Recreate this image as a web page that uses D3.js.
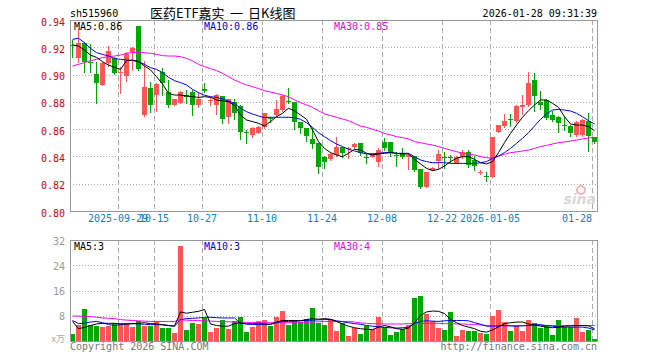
<!DOCTYPE html>
<html><head><meta charset="utf-8">
<script src="https://cdn.jsdelivr.net/npm/d3@7/dist/d3.min.js"></script>
<style>
html,body{margin:0;padding:0;background:#fff;}
svg{display:block;}
text{font-family:"DejaVu Sans Mono","Liberation Mono",monospace;font-size:10px;}
</style></head>
<body>
<svg id="chart" width="660" height="360"></svg>
<script>
const symbol = "sh515960";
const titleParts = ["医药ETF嘉实", "一", "日K线图"];
const stamp = "2026-01-28 09:31:39";
const dates = [
"2025-09-17","2025-09-18","2025-09-19","2025-09-22","2025-09-23","2025-09-24","2025-09-25","2025-09-26","2025-09-29","2025-09-30",
"2025-10-09","2025-10-10","2025-10-13","2025-10-14","2025-10-15","2025-10-16","2025-10-17","2025-10-20","2025-10-21","2025-10-22",
"2025-10-23","2025-10-24","2025-10-27","2025-10-28","2025-10-29","2025-10-30","2025-10-31","2025-11-03","2025-11-04","2025-11-05",
"2025-11-06","2025-11-07","2025-11-10","2025-11-11","2025-11-12","2025-11-13","2025-11-14","2025-11-17","2025-11-18","2025-11-19",
"2025-11-20","2025-11-21","2025-11-24","2025-11-25","2025-11-26","2025-11-27","2025-11-28","2025-12-01","2025-12-02","2025-12-03",
"2025-12-04","2025-12-05","2025-12-08","2025-12-09","2025-12-10","2025-12-11","2025-12-12","2025-12-15","2025-12-16","2025-12-17",
"2025-12-18","2025-12-19","2025-12-22","2025-12-23","2025-12-24","2025-12-25","2025-12-26","2025-12-29","2025-12-30","2025-12-31",
"2026-01-05","2026-01-06","2026-01-07","2026-01-08","2026-01-09","2026-01-12","2026-01-13","2026-01-14","2026-01-15","2026-01-16",
"2026-01-19","2026-01-20","2026-01-21","2026-01-22","2026-01-23","2026-01-26","2026-01-27","2026-01-28"];
const open = [
0.9217,0.9119,0.9234,0.9090,0.9004,0.8924,0.9087,0.9119,0.9019,0.8990,
0.9168,0.9356,0.8704,0.8904,0.8850,0.9016,0.8875,0.8777,0.8794,0.8850,
0.8875,0.8777,0.8894,0.8813,0.8777,0.8843,0.8692,0.8800,0.8770,0.8578,
0.8557,0.8574,0.8613,0.8682,0.8704,0.8740,0.8804,0.8800,0.8655,0.8606,
0.8525,0.8496,0.8398,0.8379,0.8410,0.8472,0.8452,0.8467,0.8496,0.8398,
0.8398,0.8362,0.8508,0.8508,0.8413,0.8423,0.8394,0.8400,0.8308,0.8178,
0.8300,0.8369,0.8394,0.8394,0.8355,0.8394,0.8435,0.8374,0.8276,0.8254,
0.8252,0.8582,0.8623,0.8675,0.8662,0.8765,0.8777,0.8960,0.8800,0.8814,
0.8704,0.8692,0.8633,0.8623,0.8557,0.8557,0.8662,0.8540];
const high = [
0.9250,0.9334,0.9241,0.9224,0.9095,0.9095,0.9212,0.9130,0.9058,0.9168,
0.9200,0.9356,0.9102,0.8948,0.8936,0.9046,0.8960,0.8822,0.8882,0.8887,
0.8887,0.8875,0.8940,0.8838,0.8858,0.8843,0.8823,0.8818,0.8777,0.8594,
0.8613,0.8623,0.8721,0.8692,0.8814,0.8850,0.8904,0.8800,0.8655,0.8606,
0.8606,0.8496,0.8403,0.8423,0.8545,0.8472,0.8472,0.8496,0.8496,0.8423,
0.8428,0.8459,0.8533,0.8508,0.8435,0.8459,0.8423,0.8400,0.8308,0.8288,
0.8325,0.8447,0.8435,0.8410,0.8400,0.8447,0.8447,0.8400,0.8300,0.8288,
0.8545,0.8631,0.8711,0.8709,0.8777,0.8850,0.9021,0.9009,0.8882,0.8818,
0.8735,0.8696,0.8696,0.8631,0.8662,0.8672,0.8716,0.8545];
const low = [
0.9130,0.9095,0.9016,0.9021,0.8790,0.8920,0.9063,0.9004,0.8867,0.8955,
0.9033,0.9033,0.8696,0.8728,0.8733,0.8850,0.8760,0.8775,0.8790,0.8790,
0.8704,0.8765,0.8875,0.8777,0.8711,0.8648,0.8648,0.8672,0.8525,0.8500,
0.8545,0.8569,0.8606,0.8655,0.8696,0.8735,0.8789,0.8599,0.8569,0.8516,
0.8460,0.8281,0.8313,0.8374,0.8403,0.8394,0.8386,0.8462,0.8411,0.8354,
0.8394,0.8330,0.8447,0.8403,0.8330,0.8386,0.8306,0.8296,0.8166,0.8173,
0.8300,0.8313,0.8313,0.8362,0.8350,0.8386,0.8325,0.8300,0.8271,0.8222,
0.8247,0.8577,0.8618,0.8623,0.8655,0.8711,0.8770,0.8735,0.8745,0.8672,
0.8662,0.8582,0.8594,0.8550,0.8552,0.8550,0.8442,0.8500];
const close = [
0.9212,0.9234,0.9095,0.9087,0.8936,0.9087,0.9173,0.9014,0.9022,0.9148,
0.9192,0.9038,0.8911,0.8777,0.8931,0.8941,0.8777,0.8818,0.8875,0.8833,
0.8777,0.8818,0.8880,0.8817,0.8850,0.8672,0.8818,0.8716,0.8582,0.8575,
0.8606,0.8618,0.8716,0.8675,0.8745,0.8843,0.8797,0.8655,0.8606,0.8550,
0.8491,0.8320,0.8362,0.8418,0.8472,0.8428,0.8462,0.8491,0.8428,0.8394,
0.8423,0.8447,0.8459,0.8423,0.8410,0.8394,0.8413,0.8300,0.8178,0.8288,
0.8313,0.8418,0.8391,0.8389,0.8394,0.8435,0.8337,0.8333,0.8288,0.8251,
0.8545,0.8631,0.8662,0.8672,0.8770,0.8777,0.8941,0.8843,0.8777,0.8680,
0.8667,0.8643,0.8630,0.8574,0.8655,0.8667,0.8550,0.8508];
const ma5 = [
0.9217,0.9209,0.9180,0.9143,0.9126,0.9095,0.9070,0.9053,0.9038,0.9102,
0.9107,0.9095,0.9063,0.9034,0.8985,0.8931,0.8862,0.8850,0.8850,0.8843,
0.8838,0.8833,0.8838,0.8833,0.8814,0.8806,0.8801,0.8775,0.8704,0.8667,
0.8655,0.8643,0.8623,0.8655,0.8691,0.8716,0.8753,0.8735,0.8704,0.8672,
0.8594,0.8508,0.8459,0.8428,0.8411,0.8398,0.8423,0.8452,0.8447,0.8423,
0.8411,0.8418,0.8423,0.8428,0.8423,0.8418,0.8418,0.8379,0.8345,0.8313,
0.8296,0.8305,0.8330,0.8362,0.8386,0.8398,0.8398,0.8379,0.8354,0.8345,
0.8362,0.8428,0.8501,0.8569,0.8630,0.8687,0.8735,0.8777,0.8814,0.8814,
0.8789,0.8760,0.8691,0.8638,0.8630,0.8630,0.8618,0.8589];
const ma10 = [
0.9258,0.9266,0.9234,0.9192,0.9161,0.9148,0.9136,0.9117,0.9112,0.9107,
0.9102,0.9095,0.9075,0.9051,0.9038,0.9014,0.8980,0.8955,0.8941,0.8924,
0.8892,0.8867,0.8848,0.8838,0.8833,0.8821,0.8806,0.8789,0.8753,0.8728,
0.8711,0.8696,0.8684,0.8687,0.8687,0.8687,0.8687,0.8684,0.8672,0.8647,
0.8613,0.8574,0.8545,0.8516,0.8491,0.8472,0.8452,0.8440,0.8428,0.8418,
0.8418,0.8423,0.8428,0.8428,0.8423,0.8423,0.8423,0.8398,0.8374,0.8362,
0.8354,0.8354,0.8354,0.8349,0.8349,0.8349,0.8349,0.8349,0.8354,0.8362,
0.8386,0.8403,0.8428,0.8459,0.8496,0.8533,0.8574,0.8623,0.8672,0.8711,
0.8740,0.8745,0.8740,0.8733,0.8716,0.8691,0.8662,0.8638];
const ma30 = [
0.9063,0.9075,0.9087,0.9102,0.9112,0.9124,0.9131,0.9136,0.9143,0.9156,
0.9161,0.9161,0.9161,0.9156,0.9148,0.9139,0.9136,0.9136,0.9131,0.9119,
0.9100,0.9075,0.9058,0.9043,0.9029,0.9009,0.8985,0.8960,0.8941,0.8924,
0.8911,0.8897,0.8882,0.8872,0.8862,0.8850,0.8838,0.8814,0.8794,0.8777,
0.8760,0.8735,0.8711,0.8699,0.8687,0.8674,0.8662,0.8643,0.8623,0.8613,
0.8599,0.8586,0.8569,0.8557,0.8545,0.8538,0.8528,0.8508,0.8501,0.8491,
0.8484,0.8472,0.8459,0.8447,0.8435,0.8423,0.8418,0.8411,0.8398,0.8391,
0.8386,0.8403,0.8415,0.8428,0.8433,0.8440,0.8447,0.8459,0.8472,0.8481,
0.8491,0.8501,0.8506,0.8513,0.8520,0.8528,0.8535,0.8540];
const volume = [
2.1,5.2,10.0,5.2,4.9,4.3,4.9,5.8,5.8,5.6,
4.3,6.2,4.6,4.6,6.4,4.0,4.0,2.5,30.2,3.4,
5.8,5.3,7.3,2.7,4.0,6.8,3.7,6.2,7.5,2.7,
4.3,6.2,6.5,4.6,7.5,9.6,5.2,6.2,6.0,7.1,
10.6,5.8,5.2,6.5,3.1,5.6,1.5,4.0,2.1,4.9,
3.7,7.6,4.3,1.8,2.7,3.7,5.2,13.5,14.4,8.4,
6.2,4.0,3.4,9.1,1.5,3.4,3.1,3.1,2.4,2.1,
7.8,9.7,5.9,3.1,4.6,3.1,6.5,5.6,4.0,4.6,
1.8,6.5,4.3,4.3,7.2,2.7,3.4,0.5];
const volMa5 = [
6.2,3.9,4.3,4.9,5.4,5.6,5.6,5.6,5.4,5.4,
5.5,5.6,5.8,5.5,5.4,5.2,4.9,4.7,9.2,8.8,
9.1,9.4,10.0,5.4,4.9,4.7,4.7,5.5,5.8,5.4,
5.5,5.6,5.4,5.2,6.0,6.5,6.5,6.5,6.4,6.8,
7.1,6.9,7.1,6.9,6.2,5.4,4.7,4.2,3.9,3.7,
3.6,4.4,4.9,4.5,3.9,3.7,4.1,5.8,8.1,9.2,
9.5,9.4,8.7,6.8,5.8,4.9,4.4,3.9,3.1,2.8,
3.5,4.5,5.5,5.8,6.0,6.0,5.4,5.1,4.7,4.4,
4.2,4.4,4.7,4.8,4.9,4.9,4.8,3.9];
const volMa10 = [
6.5,5.5,5.7,6.0,6.2,5.8,5.2,4.9,5.2,5.4,
5.5,5.4,5.3,5.2,5.2,5.1,4.9,4.7,6.8,7.1,
7.2,7.3,7.5,7.5,7.4,7.3,7.3,7.3,5.6,5.4,
5.2,5.2,5.2,5.4,5.8,6.2,6.2,6.3,6.4,6.5,
6.6,6.7,6.8,6.8,6.4,6.1,5.8,5.5,5.3,4.9,
4.7,4.5,4.3,4.2,4.1,4.2,4.4,5.6,6.2,6.4,
6.3,6.2,6.4,6.5,6.5,6.5,6.4,5.8,5.3,4.7,
4.7,4.8,4.9,4.8,4.7,4.8,4.9,5.1,5.2,4.9,
4.7,4.4,4.4,4.4,4.4,4.4,4.1,3.5];
const volMa30 = [
7.9,7.9,7.8,7.8,7.5,7.3,7.2,7.1,6.8,6.6,
6.5,6.4,6.3,6.2,6.2,6.2,6.2,6.2,6.7,6.6,
6.5,6.5,6.4,6.3,6.2,6.1,6.1,6.0,6.0,5.9,
5.9,5.8,5.8,5.8,5.8,5.8,5.8,5.8,5.8,5.9,
6.0,6.1,6.2,6.2,6.2,6.2,6.2,6.0,5.7,5.6,
5.5,5.4,5.4,5.4,5.4,5.4,5.5,5.5,5.5,5.6,
5.6,5.6,5.5,5.5,5.4,5.4,5.3,5.2,5.1,4.9,
4.8,4.7,4.8,4.8,4.9,4.9,4.9,4.9,4.9,4.9,
4.9,4.9,4.9,4.9,4.9,4.9,4.9,4.9];
const priceTicks = [0.80,0.82,0.84,0.86,0.88,0.90,0.92,0.94];
const volTicks = [8,16,24,32];
const tickDates = ["2025-09-29","2025-10-15","2025-10-27","2025-11-10","2025-11-24","2025-12-08","2025-12-22","2026-01-05","2026-01-28"];
const tickLabels = ["2025-09-29","10-15","10-27","11-10","11-24","12-08","12-22","2026-01-05","01-28"];
const maLabels = ["MA5:0.86","MA10:0.86","MA30:0.85"];
const volMaLabels = ["MA5:3","MA10:3","MA30:4"];

const L = 70, T = 20, B = 211, VT = 240, VB = 341;
const RED = "#ff5555", GREEN = "#00a800", GRID = "#aaaaaa";
const svg = d3.select("#chart");
const n = dates.length;

const x = d3.scaleBand().domain(dates).range([L, L + 6 * n - 1]).paddingInner(1/6).paddingOuter(0);
const R = L + 6 * n - 1;
const y = d3.scaleLinear().domain([0.80, 0.94]).range([B, T]);
const yv = d3.scaleLinear().domain([0, 32]).range([VB, VT]);
const bw = x.bandwidth();
const cx = d => Math.floor(x(d) + bw / 2) + 0.5;
const py = v => Math.round(y(v));

// header
svg.append("text").attr("x", L).attr("y", 17).attr("fill", "#000").text(symbol);
const titleX = [150, 230, 248];
titleParts.forEach((t, i) => svg.append("text").attr("x", titleX[i]).attr("y", 18).attr("fill", "#000")
  .style("font-family", "'Noto Sans CJK SC',sans-serif").style("font-size", "13px").text(t));
svg.append("text").attr("x", R).attr("y", 17).attr("text-anchor", "end").attr("fill", "#000").text(stamp);

function panelGrid(top, bottom, hVals, scale) {
  const g = svg.append("g").attr("shape-rendering", "crispEdges");
  g.selectAll("line.h").data(hVals).join("line")
    .attr("x1", L).attr("x2", R)
    .attr("y1", d => Math.round(scale(d)) + 0.5).attr("y2", d => Math.round(scale(d)) + 0.5)
    .attr("stroke", GRID).attr("stroke-dasharray", "1,2");
  g.selectAll("line.v").data(tickDates).join("line")
    .attr("x1", d => x(d) + 0.5).attr("x2", d => x(d) + 0.5)
    .attr("y1", top).attr("y2", bottom)
    .attr("stroke", GRID).attr("stroke-dasharray", "5,3");
}
panelGrid(T, B, priceTicks.filter(v => v > 0.80 && v < 0.94), y);
panelGrid(VT, VB, volTicks.filter(v => v < 32), yv);

// watermark
const wm = svg.append("g");
wm.append("circle").attr("cx", 581).attr("cy", 190).attr("r", 4).attr("fill", "none").attr("stroke", "#f3b5b5").attr("stroke-width", 2);
wm.append("text").attr("x", 596).attr("y", 204).attr("text-anchor", "end")
  .style("font-family", "'DejaVu Sans',sans-serif").style("font-size", "14px").style("font-weight", "bold").style("font-style", "italic")
  .attr("fill", "#d9d9d9").text("sina");

// price axis labels
const ya = svg.append("g").attr("transform", `translate(${L - 5},0)`)
  .call(d3.axisLeft(y).tickValues(priceTicks).tickFormat(d3.format(".2f")).tickSize(0).tickPadding(0));
ya.select(".domain").remove();
ya.selectAll("text").attr("fill", "#e00000").style("font-family", "'DejaVu Sans Mono',monospace").style("font-size", "10px").attr("dy", "0.5em");

const va = svg.append("g").attr("transform", `translate(${L - 5},0)`)
  .call(d3.axisLeft(yv).tickValues(volTicks).tickSize(0).tickPadding(0));
va.select(".domain").remove();
va.selectAll("text").attr("fill", "#999").style("font-family", "'DejaVu Sans Mono',monospace").style("font-size", "10px").attr("dy", "0.4em");
svg.append("text").attr("x", 65).attr("y", 342).attr("text-anchor", "end").attr("fill", "#aaa")
  .style("font-family", "'Noto Sans CJK SC',serif").style("font-size", "9px").text("x万");

// date axis
const xa = svg.append("g").attr("transform", `translate(0,${B + 4})`)
  .call(d3.axisBottom(x).tickValues(tickDates).tickFormat((d, i) => tickLabels[i]).tickSize(0).tickPadding(0));
xa.select(".domain").remove();
xa.selectAll(".tick").attr("transform", d => `translate(${x(d)},0)`);
xa.selectAll("text").attr("fill", "#0a80d2").style("font-family", "'DejaVu Sans Mono',monospace").style("font-size", "10px").attr("dy", "0.71em")
  .attr("text-anchor", (d, i) => i === tickDates.length - 1 ? "end" : "middle");

// candles
const idx = d3.range(n);
const cg = svg.append("g").attr("shape-rendering", "crispEdges");
const col = i => close[i] >= open[i] ? RED : GREEN;
cg.selectAll("line.w").data(idx).join("line")
  .attr("x1", i => cx(dates[i])).attr("x2", i => cx(dates[i]))
  .attr("y1", i => py(high[i])).attr("y2", i => py(low[i]) + 1)
  .attr("stroke", col);
cg.selectAll("rect.b").data(idx).join("rect")
  .attr("x", i => x(dates[i])).attr("width", bw)
  .attr("y", i => py(Math.max(open[i], close[i])))
  .attr("height", i => Math.max(1, py(Math.min(open[i], close[i])) - py(Math.max(open[i], close[i]))))
  .attr("fill", col);

// volume bars
cg.selectAll("rect.v").data(idx).join("rect")
  .attr("x", i => x(dates[i])).attr("width", bw)
  .attr("y", i => Math.round(yv(volume[i])))
  .attr("height", i => VB - Math.round(yv(volume[i])))
  .attr("fill", col);

// MA lines
function maLine(arr, scale, color) {
  const line = d3.line().x((v, i) => cx(dates[i])).y(v => scale(v));
  svg.append("path").datum(arr).attr("d", line).attr("fill", "none").attr("stroke", color).attr("stroke-width", 1);
}
maLine(ma30, y, "#ff00ff");
maLine(ma10, y, "#0000ff");
maLine(ma5, y, "#000000");
maLine(volMa30, yv, "#ff00ff");
maLine(volMa10, yv, "#0000ff");
maLine(volMa5, yv, "#000000");

// borders
svg.append("rect").attr("x", L + 0.5).attr("y", T + 0.5).attr("width", R - L).attr("height", B - T)
  .attr("fill", "none").attr("stroke", "#999").attr("shape-rendering", "crispEdges");
svg.append("rect").attr("x", L + 0.5).attr("y", VT + 0.5).attr("width", R - L).attr("height", VB - VT)
  .attr("fill", "none").attr("stroke", "#999").attr("shape-rendering", "crispEdges");

// MA legends
const maCols = ["#000", "#0000ee", "#ee00ee"];
const maX = [74, 204, 334];
maLabels.forEach((t, i) => svg.append("text").attr("x", maX[i]).attr("y", 30).attr("fill", maCols[i]).text(t));
volMaLabels.forEach((t, i) => svg.append("text").attr("x", maX[i]).attr("y", 250).attr("fill", maCols[i]).text(t));

// footer
svg.append("text").attr("x", L).attr("y", 350).attr("fill", "#777").text("Copyright 2026 SINA.COM");
svg.append("text").attr("x", R).attr("y", 350).attr("text-anchor", "end").attr("fill", "#777").text("http://finance.sina.com.cn");
</script>
</body></html>
